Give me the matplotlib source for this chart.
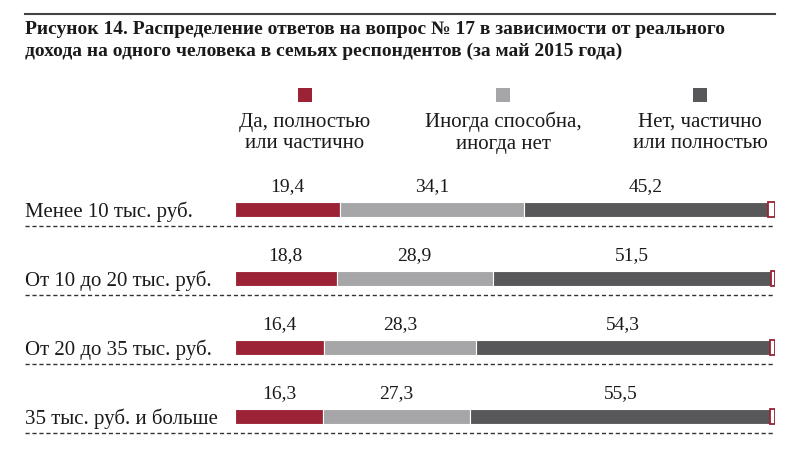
import matplotlib.pyplot as plt
from matplotlib.lines import Line2D
from matplotlib.patches import Rectangle

# Data
categories = ['Менее 10 тыс. руб.', 'От 10 до 20 тыс. руб.',
              'От 20 до 35 тыс. руб.', '35 тыс. руб. и больше']
yes_vals = [19.4, 18.8, 16.4, 16.3]
sometimes_vals = [34.1, 28.9, 28.3, 27.3]
no_vals = [45.2, 51.5, 54.3, 55.5]
other_vals = [1.3, 0.8, 1.0, 0.9]   # трудно ответить (пустой прямоугольник)
legend_labels = ['Да, полностью\nили частично',
                 'Иногда способна,\nиногда нет',
                 'Нет, частично\nили полностью']
title = ('Рисунок 14. Распределение ответов на вопрос № 17 в зависимости от реального\n'
         'дохода на одного человека в семьях респондентов (за май 2015 года)')

colors = ['#9b2335', '#a6a6a9', '#58585a']

plt.rcParams['font.family'] = ['Liberation Serif', 'DejaVu Serif']

W, H = 790, 475
fig = plt.figure(figsize=(W / 100, H / 100), dpi=100)

# axes: x 0..100 spans px 235..775, rows centred at px 209 + 69*i
ax = fig.add_axes([235 / W, (H - 450.5) / H, 540 / W, 276 / H])
ax.set_xlim(0, 100)
ax.set_ylim(3.5, -0.5)
ax.axis('off')

px = 100 / 540  # data units per pixel in x
py = 1 / 69     # data units per pixel in y
bh = 15 * py
ypos = list(range(len(categories)))

left = [0] * len(categories)
for vals, c in zip([yes_vals, sometimes_vals, no_vals], colors):
    ax.barh(ypos, vals, left=left, height=bh, color=c, edgecolor='white', linewidth=0.8)
    for y, l, v in zip(ypos, left, vals):
        ax.text(l + v / 2, y - 22 * py, f'{v:.1f}'.replace('.', ','),
                ha='center', va='center', fontsize=14, color='#1a1a1a')
    left = [l + v for l, v in zip(left, vals)]

ax.barh(ypos, other_vals, left=left, height=bh, color='white',
        edgecolor=colors[0], linewidth=1.3)

for y, cat in zip(ypos, categories):
    ax.text(-210 * px, y + 8 * py, cat, ha='left', va='baseline',
            fontsize=15, color='#1a1a1a', clip_on=False)
    ax.add_line(Line2D([-210 * px, 100], [y + 17 * py] * 2, color='#333333',
                       linewidth=1, linestyle=(0, (3, 2)), clip_on=False))

# top rule and title
fig.add_artist(Line2D([25 / W, 775 / W], [1 - 14 / H] * 2, color='#444444', linewidth=1.5))
fig.text(25 / W, 1 - 21 / H, title, ha='left', va='top', fontsize=14,
         fontweight='bold', color='#1a1a1a', linespacing=1.35)

# legend
for xc, c, lab in zip([305, 503, 700], colors, legend_labels):
    fig.add_artist(Rectangle(((xc - 7) / W, 1 - 102 / H), 14 / W, 14 / H,
                             facecolor=c, edgecolor='none'))
    fig.text(xc / W, 1 - 133 / H, lab, ha='center', va='center',
             fontsize=15, color='#1a1a1a', linespacing=1.2)

fig.savefig('out.png', dpi=100)
